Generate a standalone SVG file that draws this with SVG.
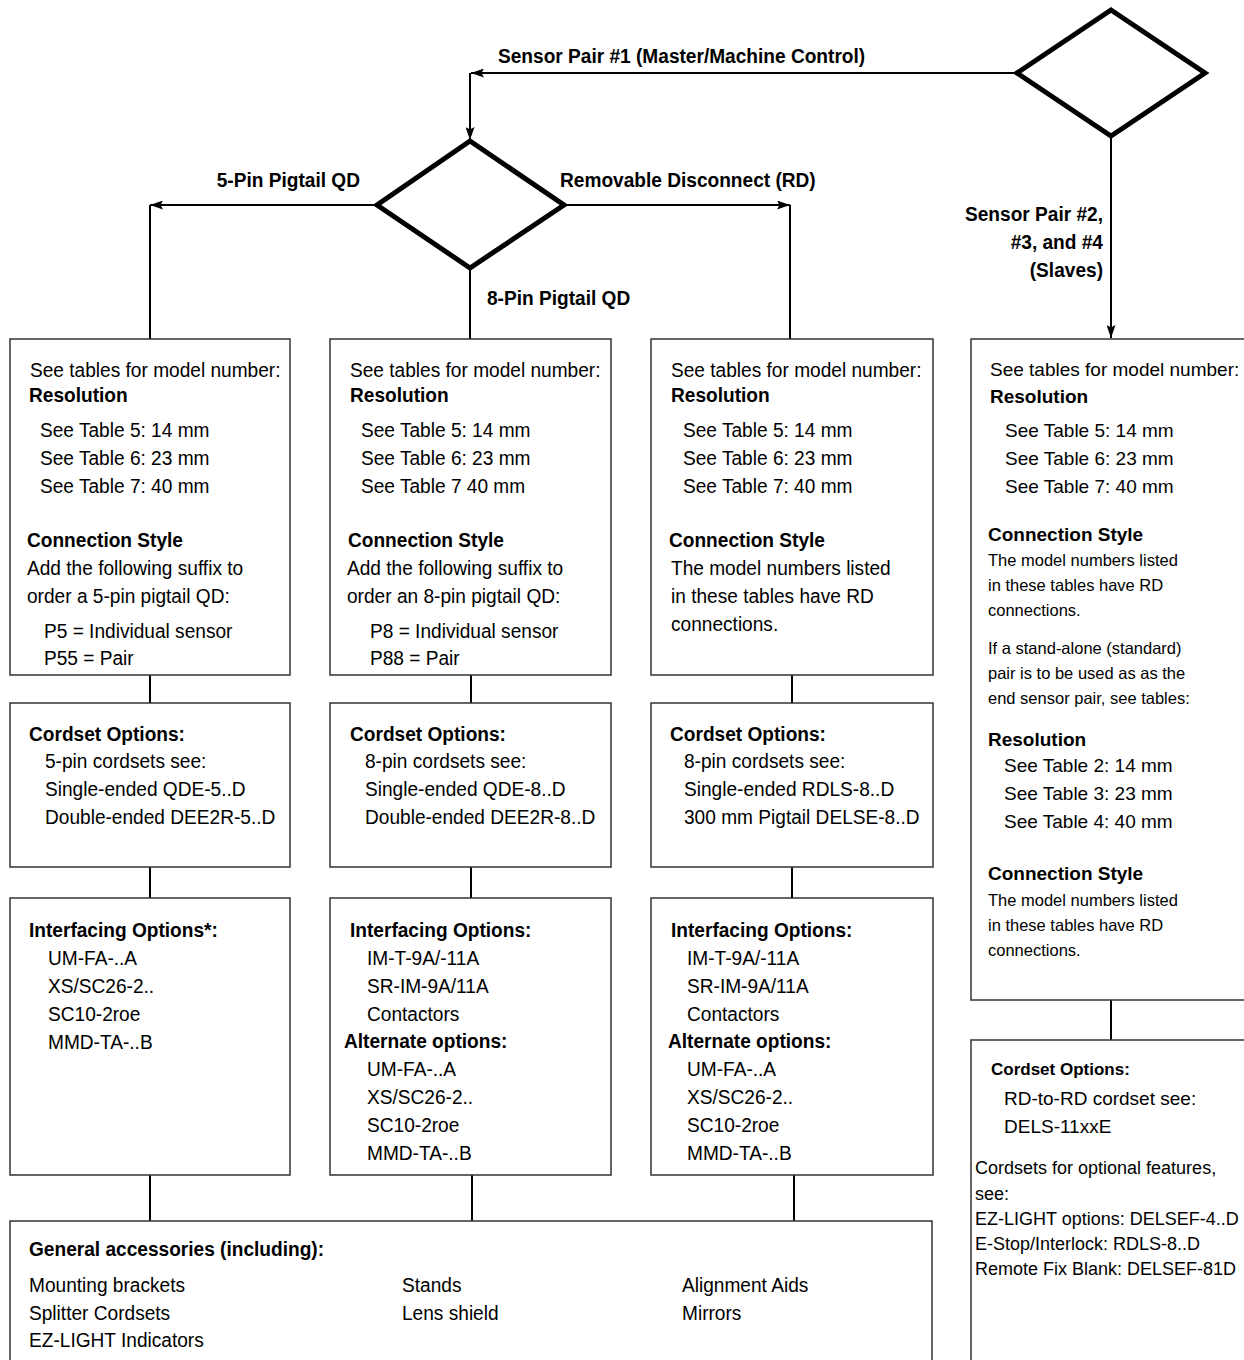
<svg xmlns="http://www.w3.org/2000/svg" width="1244" height="1360" viewBox="0 0 1244 1360">
<defs>
<style>
text{font-family:"Liberation Sans",Arial,Helvetica,sans-serif;fill:#000}
.n{font-size:21px}
.nb{font-size:21px;font-weight:bold}
.w{font-size:19px}
.wb{font-size:19px;font-weight:bold}
.s{font-size:16.5px}
.r{font-size:18px}
.r2{font-size:19px}
.rb{font-size:17px;font-weight:bold}
.box{fill:#fff;stroke:#333;stroke-width:1.5}
.dia{fill:#fff;stroke:#000;stroke-width:5;stroke-linejoin:miter}
.con{fill:none;stroke:#000;stroke-width:2}
</style>
<marker id="ah" viewBox="0 0 13 9" refX="13" refY="4.5" markerWidth="13" markerHeight="9" markerUnits="userSpaceOnUse" orient="auto">
<path d="M0,0 L13,4.5 L0,9 L2.5,4.5 z" fill="#000"/>
</marker>
</defs>
<rect width="1244" height="1360" fill="#fff"/>

<g id="connectors">
<path class="con" d="M1017,73 H471" marker-end="url(#ah)"/>
<path class="con" d="M470,73 V140" marker-end="url(#ah)"/>
<path class="con" d="M1111,137 V338" marker-end="url(#ah)"/>
<path class="con" d="M377,205 H150" marker-end="url(#ah)"/>
<path class="con" d="M150,205 V339"/>
<path class="con" d="M564,205 H790" marker-end="url(#ah)"/>
<path class="con" d="M790,205 V339"/>
<path class="con" d="M470,268 V339"/>
<path class="con" d="M150,675 V703 M471,675 V703 M792,675 V703"/>
<path class="con" d="M150,867 V898 M471,867 V898 M792,867 V898"/>
<path class="con" d="M150,1175 V1221 M472,1175 V1221 M794,1175 V1221"/>
<path class="con" d="M1111,1000 V1040"/>
<text class="nb" transform="translate(498 63) scale(.91 1)">Sensor Pair #1 (Master/Machine Control)</text>
<text class="nb" text-anchor="end" transform="translate(360 187) scale(.91 1)">5-Pin Pigtail QD</text>
<text class="nb" transform="translate(560 187) scale(.91 1)">Removable Disconnect (RD)</text>
<text class="nb" transform="translate(487 305) scale(.91 1)">8-Pin Pigtail QD</text>
<text class="nb" text-anchor="end" transform="translate(1103 221) scale(.91 1)">Sensor Pair #2,</text>
<text class="nb" text-anchor="end" transform="translate(1103 249) scale(.91 1)">#3, and #4</text>
<text class="nb" text-anchor="end" transform="translate(1103 277) scale(.91 1)">(Slaves)</text>
</g>

<g id="decision-top">
<polygon class="dia" points="1111,10 1205,73 1111,136 1017,73"/>
</g>
<g id="decision-connection">
<polygon class="dia" points="470,141 564,205 470,268 377,205"/>
</g>

<g id="box-5pin-model">
<rect class="box" x="10" y="339" width="280" height="336"/>
<text class="n" transform="translate(30 377) scale(.91 1)">See tables for model number:</text>
<text class="nb" transform="translate(29 402) scale(.91 1)">Resolution</text>
<text class="n" transform="translate(40 437) scale(.91 1)">See Table 5: 14 mm</text>
<text class="n" transform="translate(40 465) scale(.91 1)">See Table 6: 23 mm</text>
<text class="n" transform="translate(40 493) scale(.91 1)">See Table 7: 40 mm</text>
<text class="nb" transform="translate(27 547) scale(.91 1)">Connection Style</text>
<text class="n" transform="translate(27 575) scale(.91 1)">Add the following suffix to</text>
<text class="n" transform="translate(27 603) scale(.91 1)">order a 5-pin pigtail QD:</text>
<text class="n" transform="translate(44 638) scale(.91 1)">P5 = Individual sensor</text>
<text class="n" transform="translate(44 665) scale(.91 1)">P55 = Pair</text>
</g>

<g id="box-8pin-model">
<rect class="box" x="330" y="339" width="281" height="336"/>
<text class="n" transform="translate(350 377) scale(.91 1)">See tables for model number:</text>
<text class="nb" transform="translate(350 402) scale(.91 1)">Resolution</text>
<text class="n" transform="translate(361 437) scale(.91 1)">See Table 5: 14 mm</text>
<text class="n" transform="translate(361 465) scale(.91 1)">See Table 6: 23 mm</text>
<text class="n" transform="translate(361 493) scale(.91 1)">See Table 7 40 mm</text>
<text class="nb" transform="translate(348 547) scale(.91 1)">Connection Style</text>
<text class="n" transform="translate(347 575) scale(.91 1)">Add the following suffix to</text>
<text class="n" transform="translate(347 603) scale(.91 1)">order an 8-pin pigtail QD:</text>
<text class="n" transform="translate(370 638) scale(.91 1)">P8 = Individual sensor</text>
<text class="n" transform="translate(370 665) scale(.91 1)">P88 = Pair</text>
</g>

<g id="box-rd-model">
<rect class="box" x="651" y="339" width="282" height="336"/>
<text class="n" transform="translate(671 377) scale(.91 1)">See tables for model number:</text>
<text class="nb" transform="translate(671 402) scale(.91 1)">Resolution</text>
<text class="n" transform="translate(683 437) scale(.91 1)">See Table 5: 14 mm</text>
<text class="n" transform="translate(683 465) scale(.91 1)">See Table 6: 23 mm</text>
<text class="n" transform="translate(683 493) scale(.91 1)">See Table 7: 40 mm</text>
<text class="nb" transform="translate(669 547) scale(.91 1)">Connection Style</text>
<text class="n" transform="translate(671 575) scale(.91 1)">The model numbers listed</text>
<text class="n" transform="translate(671 603) scale(.91 1)">in these tables have RD</text>
<text class="n" transform="translate(671 631) scale(.91 1)">connections.</text>
</g>

<g id="box-5pin-cordset">
<rect class="box" x="10" y="703" width="280" height="164"/>
<text class="nb" transform="translate(29 741) scale(.91 1)">Cordset Options:</text>
<text class="n" transform="translate(45 768) scale(.91 1)">5-pin cordsets see:</text>
<text class="n" transform="translate(45 796) scale(.91 1)">Single-ended QDE-5..D</text>
<text class="n" transform="translate(45 824) scale(.91 1)">Double-ended DEE2R-5..D</text>
</g>

<g id="box-8pin-cordset">
<rect class="box" x="330" y="703" width="281" height="164"/>
<text class="nb" transform="translate(350 741) scale(.91 1)">Cordset Options:</text>
<text class="n" transform="translate(365 768) scale(.91 1)">8-pin cordsets see:</text>
<text class="n" transform="translate(365 796) scale(.91 1)">Single-ended QDE-8..D</text>
<text class="n" transform="translate(365 824) scale(.91 1)">Double-ended DEE2R-8..D</text>
</g>

<g id="box-rd-cordset">
<rect class="box" x="651" y="703" width="282" height="164"/>
<text class="nb" transform="translate(670 741) scale(.91 1)">Cordset Options:</text>
<text class="n" transform="translate(684 768) scale(.91 1)">8-pin cordsets see:</text>
<text class="n" transform="translate(684 796) scale(.91 1)">Single-ended RDLS-8..D</text>
<text class="n" transform="translate(684 824) scale(.91 1)">300 mm Pigtail DELSE-8..D</text>
</g>

<g id="box-5pin-interfacing">
<rect class="box" x="10" y="898" width="280" height="277"/>
<text class="nb" transform="translate(29 937) scale(.91 1)">Interfacing Options*:</text>
<text class="n" transform="translate(48 965) scale(.91 1)">UM-FA-..A</text>
<text class="n" transform="translate(48 993) scale(.91 1)">XS/SC26-2..</text>
<text class="n" transform="translate(48 1021) scale(.91 1)">SC10-2roe</text>
<text class="n" transform="translate(48 1049) scale(.91 1)">MMD-TA-..B</text>
</g>

<g id="box-8pin-interfacing">
<rect class="box" x="330" y="898" width="281" height="277"/>
<text class="nb" transform="translate(350 937) scale(.91 1)">Interfacing Options:</text>
<text class="n" transform="translate(367 965) scale(.91 1)">IM-T-9A/-11A</text>
<text class="n" transform="translate(367 993) scale(.91 1)">SR-IM-9A/11A</text>
<text class="n" transform="translate(367 1021) scale(.91 1)">Contactors</text>
<text class="nb" transform="translate(344 1048) scale(.91 1)">Alternate options:</text>
<text class="n" transform="translate(367 1076) scale(.91 1)">UM-FA-..A</text>
<text class="n" transform="translate(367 1104) scale(.91 1)">XS/SC26-2..</text>
<text class="n" transform="translate(367 1132) scale(.91 1)">SC10-2roe</text>
<text class="n" transform="translate(367 1160) scale(.91 1)">MMD-TA-..B</text>
</g>

<g id="box-rd-interfacing">
<rect class="box" x="651" y="898" width="282" height="277"/>
<text class="nb" transform="translate(671 937) scale(.91 1)">Interfacing Options:</text>
<text class="n" transform="translate(687 965) scale(.91 1)">IM-T-9A/-11A</text>
<text class="n" transform="translate(687 993) scale(.91 1)">SR-IM-9A/11A</text>
<text class="n" transform="translate(687 1021) scale(.91 1)">Contactors</text>
<text class="nb" transform="translate(668 1048) scale(.91 1)">Alternate options:</text>
<text class="n" transform="translate(687 1076) scale(.91 1)">UM-FA-..A</text>
<text class="n" transform="translate(687 1104) scale(.91 1)">XS/SC26-2..</text>
<text class="n" transform="translate(687 1132) scale(.91 1)">SC10-2roe</text>
<text class="n" transform="translate(687 1160) scale(.91 1)">MMD-TA-..B</text>
</g>

<g id="box-general-accessories">
<rect class="box" x="10" y="1221" width="922" height="170"/>
<text class="nb" transform="translate(29 1256) scale(.91 1)">General accessories (including):</text>
<text class="n" transform="translate(29 1292) scale(.91 1)">Mounting brackets</text>
<text class="n" transform="translate(29 1320) scale(.91 1)">Splitter Cordsets</text>
<text class="n" transform="translate(29 1347) scale(.91 1)">EZ-LIGHT Indicators</text>
<text class="n" transform="translate(402 1292) scale(.91 1)">Stands</text>
<text class="n" transform="translate(402 1320) scale(.91 1)">Lens shield</text>
<text class="n" transform="translate(682 1292) scale(.91 1)">Alignment Aids</text>
<text class="n" transform="translate(682 1320) scale(.91 1)">Mirrors</text>
</g>

<g id="box-slaves-model">
<rect class="box" x="971" y="339" width="290" height="661"/>
<text class="w" x="990" y="376">See tables for model number:</text>
<text class="wb" x="990" y="403">Resolution</text>
<text class="w" x="1005" y="437">See Table 5: 14 mm</text>
<text class="w" x="1005" y="465">See Table 6: 23 mm</text>
<text class="w" x="1005" y="493">See Table 7: 40 mm</text>
<text class="wb" x="988" y="541">Connection Style</text>
<text class="s" x="988" y="566">The model numbers listed</text>
<text class="s" x="988" y="591">in these tables have RD</text>
<text class="s" x="988" y="616">connections.</text>
<text class="s" x="988" y="654">If a stand-alone (standard)</text>
<text class="s" x="988" y="679">pair is to be used as as the</text>
<text class="s" x="988" y="704">end sensor pair, see tables:</text>
<text class="wb" x="988" y="746">Resolution</text>
<text class="w" x="1004" y="772">See Table 2: 14 mm</text>
<text class="w" x="1004" y="800">See Table 3: 23 mm</text>
<text class="w" x="1004" y="828">See Table 4: 40 mm</text>
<text class="wb" x="988" y="880">Connection Style</text>
<text class="s" x="988" y="906">The model numbers listed</text>
<text class="s" x="988" y="931">in these tables have RD</text>
<text class="s" x="988" y="956">connections.</text>
</g>

<g id="box-slaves-cordset">
<rect class="box" x="971" y="1040" width="290" height="340"/>
<text class="rb" x="991" y="1075">Cordset Options:</text>
<text class="r2" x="1004" y="1105">RD-to-RD cordset see:</text>
<text class="r2" x="1004" y="1133">DELS-11xxE</text>
<text class="r" x="975" y="1174">Cordsets for optional features,</text>
<text class="r" x="975" y="1200">see:</text>
<text class="r" x="975" y="1225">EZ-LIGHT options: DELSEF-4..D</text>
<text class="r" x="975" y="1250">E-Stop/Interlock: RDLS-8..D</text>
<text class="r" x="975" y="1275">Remote Fix Blank: DELSEF-81D</text>
</g>
</svg>
